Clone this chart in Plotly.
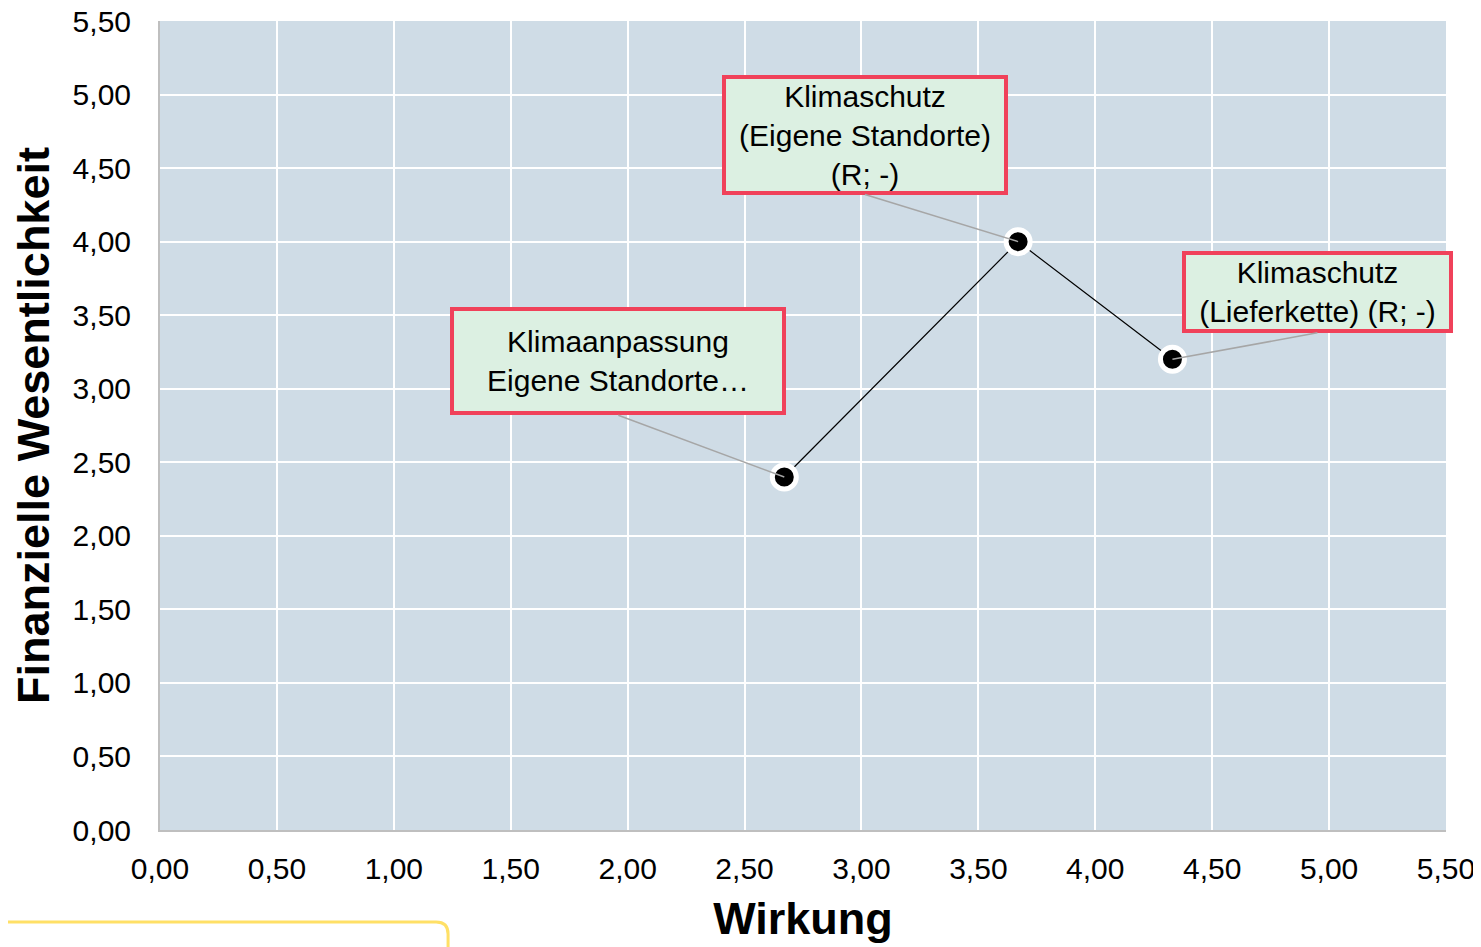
import plotly.graph_objects as go

# Data
x_vals = [2.67, 3.67, 4.33]
y_vals = [2.40, 4.00, 3.20]
labels = [
    "Klimaanpassung<br>Eigene Standorte…",
    "Klimaschutz<br>(Eigene Standorte)<br>(R; -)",
    "Klimaschutz<br>(Lieferkette) (R; -)",
]
# label box anchor positions (bottom centre of each box, in data units)
label_x = [1.96, 3.015, 4.95]
label_y = [2.82, 4.32, 3.38]
label_w = [328, 278, 263]
label_h = [100, 112, 74]

tick_vals = [i * 0.5 for i in range(12)]

FONT = "Liberation Sans, Arial, sans-serif"

fig = go.Figure()
fig.add_trace(go.Scatter(
    x=x_vals, y=y_vals, mode="lines+markers",
    line=dict(color="black", width=1.2),
    marker=dict(size=24, color="black", line=dict(color="white", width=5)),
    showlegend=False, hoverinfo="skip",
))

for lx, ly, px, py, txt, w, h in zip(label_x, label_y, x_vals, y_vals, labels, label_w, label_h):
    fig.add_annotation(
        x=px, y=py, ax=lx, ay=ly, axref="x", ayref="y", xref="x", yref="y",
        text=txt, showarrow=True, arrowhead=0, arrowwidth=1.5, arrowcolor="#a6a6a6",
        xanchor="center", yanchor="bottom",
        width=w, height=h, align="center", valign="middle",
        bgcolor="#dcf0e2", bordercolor="#f0415a", borderwidth=4, borderpad=0,
        font=dict(family=FONT, size=30, color="black"),
    )

# partially visible yellow box at bottom-left
fig.add_shape(
    type="path", xref="paper", yref="paper",
    path="M -0.13,-0.1137 L 0.2147,-0.1137 Q 0.2240,-0.1137 0.2240,-0.1285 L 0.2240,-0.20",
    line=dict(color="#ffe066", width=3),
)

fig.update_layout(
    width=1473, height=939,
    margin=dict(l=152, r=35, t=13, b=117),
    paper_bgcolor="white", plot_bgcolor="#cfdce6",
    separators=",.",
    font=dict(family=FONT, color="black"),
)
fig.update_xaxes(
    range=[0, 5.5], tickvals=tick_vals, tickformat=".2f",
    automargin=False, ticklabeloverflow="allow",
    showgrid=True, gridcolor="white", gridwidth=2,
    showline=True, linecolor="#bfbfbf", linewidth=2,
    zeroline=False,
    ticks="outside", ticklen=11, tickcolor="rgba(0,0,0,0)",
    tickfont=dict(size=30, family=FONT),
    title=dict(text="<b>Wirkung</b>", font=dict(size=45, family=FONT), standoff=18),
)
fig.update_yaxes(
    range=[0, 5.5], tickvals=tick_vals, tickformat=".2f",
    automargin=False, ticklabeloverflow="allow",
    showgrid=True, gridcolor="white", gridwidth=2,
    showline=True, linecolor="#bfbfbf", linewidth=2,
    zeroline=False,
    ticks="outside", ticklen=21, tickcolor="rgba(0,0,0,0)",
    tickfont=dict(size=30, family=FONT),
    title=dict(text="<b>Finanzielle Wesentlichkeit</b>", font=dict(size=45, family=FONT), standoff=12),
)

fig.write_html("out.html")
